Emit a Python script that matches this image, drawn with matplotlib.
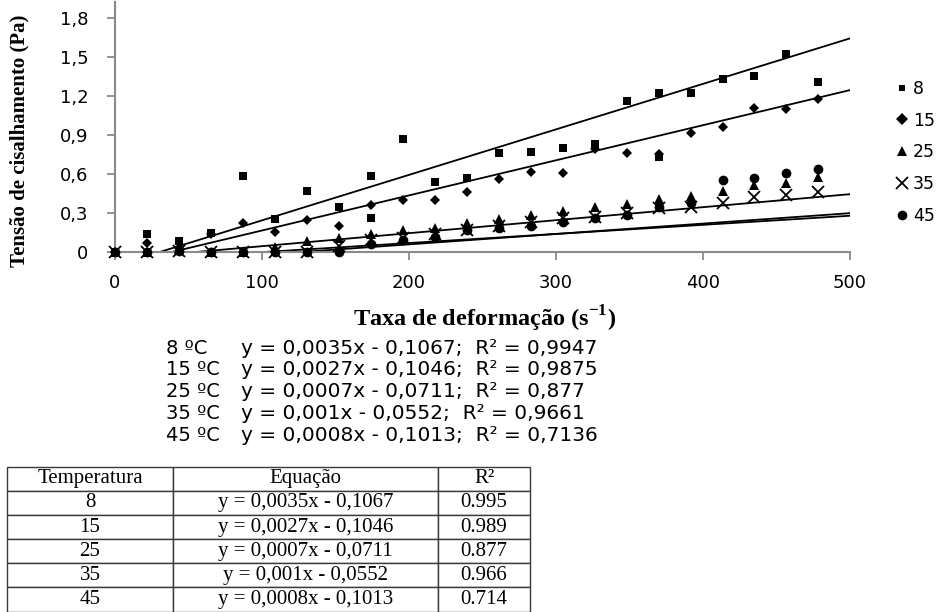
import matplotlib
matplotlib.use("Agg")
import matplotlib.pyplot as plt
import numpy as np

plt.rcParams["mathtext.fontset"] = "custom"
plt.rcParams["mathtext.rm"] = "Liberation Serif"
plt.rcParams["mathtext.bf"] = "Liberation Serif:bold"

# ---------------- data ----------------
temps = ["8", "15", "25", "35", "45"]

x8 = [0, 21.8, 43.5, 65.3, 87, 108.8, 130.5, 152.3, 174, 174, 195.8, 217.5, 239.3, 261,
      282.8, 304.5, 326.3, 348, 369.8, 369.8, 391.5, 413.3, 435, 456.8, 478.5]
y8 = [0, 0.14, 0.087, 0.15, 0.585, 0.254, 0.47, 0.344, 0.585, 0.26, 0.872, 0.54, 0.572, 0.76,
      0.77, 0.80, 0.83, 1.16, 1.22, 0.73, 1.22, 1.33, 1.35, 1.52, 1.31]

x_all = [0, 21.8, 43.5, 65.3, 87, 108.8, 130.5, 152.3, 174, 195.8, 217.5, 239.3, 261,
         282.8, 304.5, 326.3, 348, 369.8, 391.5, 413.3, 435, 456.8, 478.5]
y15 = [0, 0.07, 0.03, 0.138, 0.22, 0.156, 0.246, 0.2, 0.364, 0.397, 0.40, 0.464, 0.564,
       0.613, 0.608, 0.79, 0.76, 0.75, 0.918, 0.96, 1.105, 1.098, 1.177]
y25 = [0, 0, 0.02, 0, 0, 0.04, 0.087, 0.11, 0.136, 0.17, 0.187, 0.225, 0.254,
       0.285, 0.315, 0.349, 0.37, 0.405, 0.43, 0.47, 0.513, 0.53, 0.575]
y35 = [0, 0, 0.01, 0, 0, 0, 0, 0.05, 0.09, 0.11, 0.14, 0.17, 0.2,
       0.23, 0.26, 0.27, 0.297, 0.335, 0.348, 0.38, 0.42, 0.44, 0.46]
y45 = [0, 0, 0.01, 0, 0, 0, 0, 0, 0.059, 0.092, 0.113, 0.17, 0.187,
       0.2, 0.23, 0.26, 0.285, 0.344, 0.374, 0.55, 0.57, 0.61, 0.636]

slopes = [0.0035, 0.0027, 0.0007, 0.001, 0.0008]
intercepts = [-0.1067, -0.1046, -0.0711, -0.0552, -0.1013]
r2_chart = ["0,9947", "0,9875", "0,877", "0,9661", "0,7136"]
eq_text = ["y = 0,0035x - 0,1067", "y = 0,0027x - 0,1046", "y = 0,0007x - 0,0711",
           "y = 0,001x - 0,0552", "y = 0,0008x - 0,1013"]
r2_table = ["0.995", "0.989", "0.877", "0.966", "0.714"]

xticks = [0, 100, 200, 300, 400, 500]
yticks = [0, 0.3, 0.6, 0.9, 1.2, 1.5, 1.8]
ytick_labels = ["0", "0,3", "0,6", "0,9", "1,2", "1,5", "1,8"]

# ---------------- figure ----------------
W, H = 937, 612
fig = plt.figure(figsize=(W / 100, H / 100), dpi=100)

def fx(px):
    return px / W

def fy(py):
    return 1 - py / H

ax_l, ax_r, ax_t, ax_b = 115, 850, 2.4, 252
ax = fig.add_axes([fx(ax_l), fy(ax_b), fx(ax_r - ax_l), (ax_b - ax_t) / H])
ax.set_xlim(0, 500)
ax.set_ylim(0, 1.92)

series = [
    (x8, y8, "s", 6, "8"),
    (x_all, y15, "D", 5.5, "15"),
    (x_all, y25, "^", 7, "25"),
    (x_all, y35, "x", 8, "35"),
    (x_all, y45, "o", 7, "45"),
]
handles = []
for (xs, ys, mk, ms, lab) in series:
    kw = dict(color="black", markeredgewidth=1.3) if mk == "x" else dict(color="black", markeredgewidth=0)
    h, = ax.plot(xs, ys, linestyle="none", marker=mk, markersize=ms, label=lab, clip_on=False, zorder=3, **kw)
    handles.append(h)

xl = np.array([0, 500])
for s, b in zip(slopes, intercepts):
    ax.plot(xl, s * xl + b, color="black", lw=1.3, zorder=2)

for sp in ["top", "right"]:
    ax.spines[sp].set_visible(False)
for sp in ["left", "bottom"]:
    ax.spines[sp].set_color("#8a8a8a")
    ax.spines[sp].set_linewidth(1.5)

ax.set_xticks(xticks)
ax.set_xticklabels([str(v) for v in xticks])
ax.set_yticks(yticks)
ax.set_yticklabels(ytick_labels)
ax.tick_params(axis="both", direction="out", color="#8a8a8a", width=1.3, length=6,
               labelsize=13, labelcolor="black")
ax.tick_params(axis="x", pad=10)
ax.tick_params(axis="y", pad=13)
for lab in ax.get_xticklabels() + ax.get_yticklabels():
    lab.set_fontfamily("DejaVu Sans")

ax.set_ylabel("Tensão de cisalhamento (Pa)", fontfamily="Liberation Serif", fontweight="bold",
              fontsize=15)
ax.yaxis.label.set_verticalalignment("center")
ax.yaxis.set_label_coords(-(ax_l - 19) / (ax_r - ax_l), (ax_b - 141) / (ax_b - ax_t))

fig.text(fx(485), fy(319), "Taxa de deformação (s$^{\\mathbf{-1}}$)", ha="center", va="center",
         fontfamily="Liberation Serif", fontweight="bold", fontsize=17.5)

# legend
leg = fig.legend(handles=handles, labels=temps, loc="upper left",
                 bbox_to_anchor=(fx(886), fy(71)), frameon=False, fontsize=12.5,
                 handlelength=0.8, handletextpad=0.25, labelspacing=0.8, borderpad=0)
for i, h in enumerate(leg.legend_handles):
    h.set_markersize([5, 6, 7, 9, 7][i])

# equation lines
for i, (t, e, r) in enumerate(zip(temps, eq_text, r2_chart)):
    yy = 348 + i * 21.8
    fig.text(fx(166), fy(yy), f"{t} ºC", ha="left", va="center", fontfamily="DejaVu Sans", fontsize=14)
    fig.text(fx(241), fy(yy), f"{e};  R² = {r}", ha="left", va="center",
             fontfamily="DejaVu Sans", fontsize=14.5)

# table
tab_l, tab_r, tab_t, tab_b = 7, 530, 466.7, 611.5
axt = fig.add_axes([fx(tab_l), fy(tab_b), fx(tab_r - tab_l), (tab_b - tab_t) / H])
axt.axis("off")
cell_text = [[t, e, r] for t, e, r in zip(temps, eq_text, r2_table)]
col_w = np.array([166, 265, 92], dtype=float)
col_w = col_w / col_w.sum()
tbl = axt.table(cellText=cell_text, colLabels=["Temperatura", "Equação", "R²"],
                cellLoc="center", colLoc="center", bbox=[0, 0, 1, 1], colWidths=list(col_w))
tbl.auto_set_font_size(False)
for (r, c), cell in tbl.get_celld().items():
    cell.set_edgecolor("#3a3a3a")
    cell.set_linewidth(1.0)
    cell.get_text().set_fontfamily("Liberation Serif")
    cell.get_text().set_fontsize(15)

fig.savefig("out.png", dpi=100)
